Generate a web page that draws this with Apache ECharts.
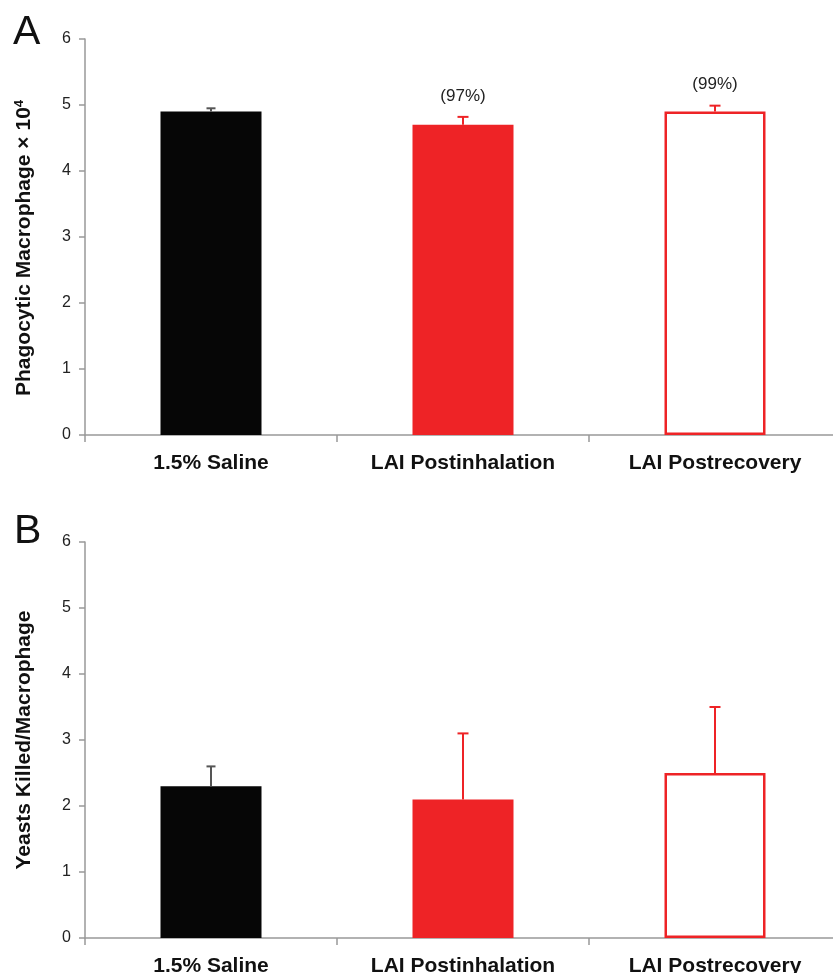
<!DOCTYPE html>
<html><head><meta charset="utf-8">
<script src="https://cdn.jsdelivr.net/npm/echarts@6/dist/echarts.min.js"></script>
<style>html,body{margin:0;padding:0;background:#fff;overflow:hidden}#c{width:833px;height:973px}</style>
</head><body><div id="c"></div>
<script>
const categories = ['1.5% Saline', 'LAI Postinhalation', 'LAI Postrecovery'];
const phagoValues = [4.9, 4.7, 4.9];
const phagoErrTop = [4.95, 4.82, 4.99];
const phagoPct = ['', '(97%)', '(99%)'];
const killValues = [2.3, 2.1, 2.5];
const killErrTop = [2.6, 3.1, 3.5];
const yTicks = [0, 1, 2, 3, 4, 5, 6];

const RED = '#ee2326';
const BLACK = '#060606';
const FONT = 'Liberation Sans';

function barData(vals) {
  return vals.map((v, i) => {
    if (i === 0) return { value: v, itemStyle: { color: BLACK } };
    if (i === 1) return { value: v, itemStyle: { color: RED } };
    return { value: v, itemStyle: { color: '#fff', borderColor: RED, borderWidth: 2.5 } };
  });
}
function errData(vals, tops) {
  return vals.map((v, i) => [i, v, tops[i]]);
}
function makeErrRender(labels) {
  return function (params, api) {
    const i = api.value(0);
    const lo = api.coord([i, api.value(1)]);
    const hi = api.coord([i, api.value(2)]);
    const col = i === 0 ? '#555' : RED;
    const cap = i === 0 ? 4.5 : 5.5;
    const children = [
      { type: 'line', shape: { x1: lo[0], y1: lo[1], x2: hi[0], y2: hi[1] }, style: { stroke: col, lineWidth: 2 } },
      { type: 'line', shape: { x1: hi[0] - cap, y1: hi[1], x2: hi[0] + cap, y2: hi[1] }, style: { stroke: col, lineWidth: 2 } }
    ];
    const txt = labels ? labels[params.dataIndex] : '';
    if (txt) {
      children.push({ type: 'text', x: hi[0], y: hi[1] - 21,
        style: { text: txt, fontFamily: FONT, fontSize: 17, fill: '#222', align: 'center', verticalAlign: 'middle' } });
    }
    return { type: 'group', children: children };
  };
}
function xAxis(gi) {
  return {
    type: 'category', gridIndex: gi, data: categories,
    axisLine: { lineStyle: { color: '#999', width: 1.5 } },
    axisTick: { show: true, length: 7, lineStyle: { color: '#999', width: 1.5 } },
    axisLabel: { fontFamily: FONT, fontWeight: 'bold', fontSize: 21, color: '#111', margin: 18 }
  };
}
function yAxis(gi, name, pad) {
  return {
    type: 'value', gridIndex: gi, min: 0, max: 6, interval: 1,
    name: name, nameLocation: 'middle', nameGap: 50,
    nameTextStyle: {
      fontFamily: FONT, fontWeight: 'bold', fontSize: 21, color: '#111', padding: pad,
      rich: { sup: { fontFamily: FONT, fontWeight: 'bold', fontSize: 13, color: '#111', padding: [0, 0, 9, 0] } }
    },
    axisLine: { show: true, lineStyle: { color: '#999', width: 1.5 } },
    axisTick: { show: true, length: 6, lineStyle: { color: '#999', width: 1.5 } },
    splitLine: { show: false },
    axisLabel: { fontFamily: FONT, fontSize: 16, color: '#222', margin: 14, formatter: v => yTicks.includes(v) ? String(v) : '' }
  };
}
const chart = echarts.init(document.getElementById('c'), null, { renderer: 'canvas' });
chart.setOption({
  animation: false,
  backgroundColor: '#fff',
  title: [
    { text: 'A', left: 8, top: 7, textStyle: { fontFamily: FONT, fontSize: 41, fontWeight: 'normal', color: '#111' } },
    { text: 'B', left: 9, top: 506, textStyle: { fontFamily: FONT, fontSize: 41, fontWeight: 'normal', color: '#111' } }
  ],
  grid: [
    { left: 85, top: 39, height: 396, width: 756, containLabel: false, outerBoundsMode: 'none' },
    { left: 85, top: 542, height: 396, width: 756, containLabel: false, outerBoundsMode: 'none' }
  ],
  xAxis: [xAxis(0), xAxis(1)],
  yAxis: [yAxis(0, 'Phagocytic Macrophage × 10{sup|4}', [0, 22, 0, 0]), yAxis(1, 'Yeasts Killed/Macrophage', 0)],
  series: [
    { type: 'bar', xAxisIndex: 0, yAxisIndex: 0, barWidth: 101, data: barData(phagoValues) },
    { type: 'custom', xAxisIndex: 0, yAxisIndex: 0, renderItem: makeErrRender(phagoPct), z: 5,
      encode: { x: 0, y: [1, 2] }, data: errData(phagoValues, phagoErrTop) },
    { type: 'bar', xAxisIndex: 1, yAxisIndex: 1, barWidth: 101, data: barData(killValues) },
    { type: 'custom', xAxisIndex: 1, yAxisIndex: 1, renderItem: makeErrRender(null), z: 5,
      encode: { x: 0, y: [1, 2] }, data: errData(killValues, killErrTop) }
  ]
});
</script></body></html>
